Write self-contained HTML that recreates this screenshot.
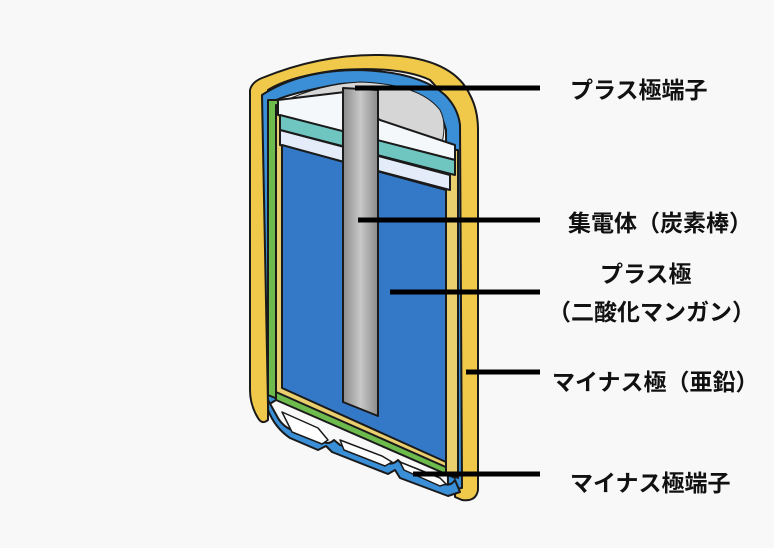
<!DOCTYPE html>
<html><head><meta charset="utf-8"><style>
html,body{margin:0;padding:0;background:#f8f8f8;}
svg{display:block}
text{font-family:"Liberation Sans","Noto Sans CJK JP",sans-serif;font-weight:bold;font-size:23px;fill:#111}
</style></head><body>
<svg width="774" height="548" viewBox="0 0 774 548" xmlns="http://www.w3.org/2000/svg">
<rect width="774" height="548" fill="#f8f8f8"/>
<g stroke="#1a1a1a" stroke-width="2" stroke-linejoin="round">
<path d="M250,90 Q252,82 262,78 Q330,50 400,56 Q455,62 470,95 Q478,110 478,130 L478,490 Q476,502 462,500 L455,497 L455,130 Q450,100 430,80 Q400,66 340,70 Q290,76 268,90 L268,420 Q262,425 258,418 Q250,405 250,390 Z" fill="#f0c84a"/>
<path d="M262,95 Q300,70 360,70 Q420,72 445,95 Q458,108 460,125 L462,488 L448,490 L446,130 Q440,105 420,95 Q380,80 340,84 Q295,92 276,100 L276,400 L268,405 Z" fill="#3a8fd6"/>
<path d="M282,102 Q320,84 360,82 Q420,84 440,110 Q448,125 440,150 L300,112 Z" fill="#d6d6d6" stroke-width="1"/>
<path d="M268,100 L280,100 L280,400 L268,395 Z" fill="#6dbb4c"/>
<path d="M268,400 L278,418 Q285,430 300,432 L320,440 Q328,446 334,440 L340,445 L385,462 Q392,466 398,460 L404,466 L440,482 Q450,488 455,480 L460,492 L448,496 L400,478 L395,470 L388,474 L332,452 L326,446 L318,450 L290,438 Q275,428 268,410 Z" fill="#3a8fd6"/>
<path d="M282,412 L318,428 L328,440 L322,444 L292,432 Z M340,440 L382,456 L392,462 L385,466 L344,450 Z M400,462 L440,478 L446,484 L440,486 L404,470 Z" fill="#ffffff" stroke-width="1.5"/>
<path d="M276,390 L455,468 L455,478 L276,400 Z" fill="#6dbb4c"/>
<path d="M276,105 L288,105 L288,385 L448,455 L448,468 L276,392 Z" fill="#e9cf6e"/>
<path d="M446,150 L458,150 L458,478 L446,472 Z" fill="#e9cf6e"/>
<path d="M278,100 L345,92 L380,120 L455,145 L455,160 L278,115 Z" fill="#f4f8fb"/>
<path d="M280,115 L455,160 L455,175 L280,130 Z" fill="#6fc6c0"/>
<path d="M280,130 L450,175 L450,190 L280,145 Z" fill="#e3ecf8"/>
<path d="M282,145 L446,190 L446,462 L282,388 Z" fill="#3479c8"/>
<defs><linearGradient id="g" x1="0" x2="1"><stop offset="0" stop-color="#8a8a8a"/><stop offset="0.5" stop-color="#c8c8c8"/><stop offset="1" stop-color="#8a8a8a"/></linearGradient></defs>
<path d="M343,88 L378,90 L378,416 L343,402 Z" fill="url(#g)"/>
</g>
<g stroke="#000" stroke-width="5">
<line x1="355" y1="88" x2="540" y2="88"/>
<line x1="358" y1="220" x2="540" y2="220"/>
<line x1="390" y1="292" x2="540" y2="292"/>
<line x1="466" y1="372" x2="540" y2="372"/>
<line x1="413" y1="474" x2="540" y2="474"/>
</g>
<text x="570" y="98">プラス極端子</text>
<text x="568" y="231">集電体（炭素棒）</text>
<text x="600" y="282">プラス極</text>
<text x="548" y="320">（二酸化マンガン）</text>
<text x="552" y="390">マイナス極（亜鉛）</text>
<text x="570" y="491">マイナス極端子</text>
</svg>
</body></html>
